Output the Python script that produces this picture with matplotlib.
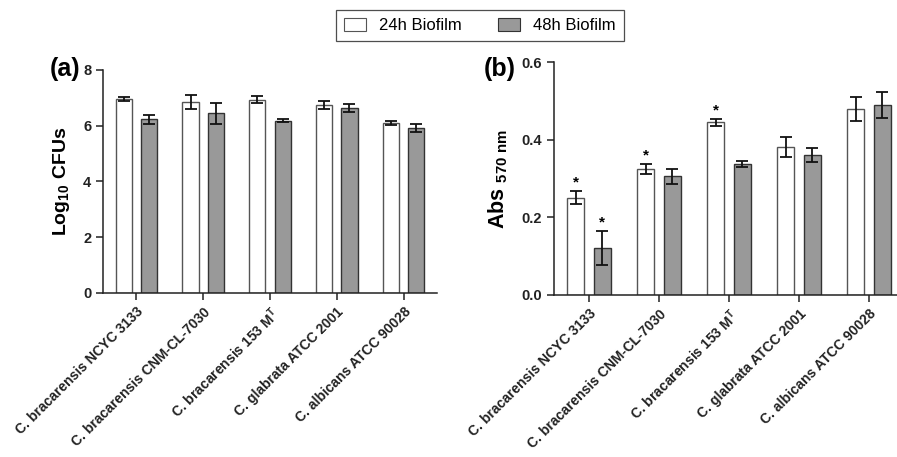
import numpy as np
import matplotlib
matplotlib.use("Agg")
import matplotlib.pyplot as plt
from matplotlib.patches import Patch

plt.rcParams['font.family'] = ['Liberation Sans', 'DejaVu Sans']
plt.rcParams['mathtext.fontset'] = 'custom'
plt.rcParams['mathtext.rm'] = 'Liberation Sans'
plt.rcParams['mathtext.bf'] = 'Liberation Sans:bold'
plt.rcParams['mathtext.it'] = 'Liberation Sans:italic:bold'

# categories
strains = ['C. bracarensis NCYC 3133', 'C. bracarensis CNM-CL-7030',
           r'C. bracarensis 153 M$^{\mathbf{T}}$', 'C. glabrata ATCC 2001',
           'C. albicans ATCC 90028']

# (a) log10 CFUs
cfu_24 = [6.97, 6.86, 6.93, 6.75, 6.09]
cfu_24_err = [0.07, 0.25, 0.12, 0.15, 0.08]
cfu_48 = [6.24, 6.45, 6.18, 6.63, 5.92]
cfu_48_err = [0.16, 0.38, 0.06, 0.15, 0.14]

# (b) Abs 570 nm
abs_24 = [0.251, 0.324, 0.445, 0.382, 0.479]
abs_24_err = [0.016, 0.013, 0.009, 0.026, 0.031]
abs_48 = [0.122, 0.306, 0.337, 0.361, 0.490]
abs_48_err = [0.044, 0.020, 0.0075, 0.017, 0.033]
star_24 = [True, True, True, False, False]
star_48 = [True, False, False, False, False]

gray = '#999999'
edge_w = '#555555'
x = np.arange(len(strains))
off = 0.19
bw = 0.245

fig = plt.figure(figsize=(8.97, 4.57), dpi=100)
axa = fig.add_axes([103/897, 1-293/457, 334/897, 223/457])
axb = fig.add_axes([554/897, 1-295/457, 350/897, 232.7/457])


def draw(ax, v24, e24, v48, e48):
    ax.bar(x - off, v24, bw, color='white', edgecolor=edge_w, linewidth=1.0, zorder=2)
    ax.bar(x + off, v48, bw, color=gray, edgecolor='#333333', linewidth=1.0, zorder=2)
    ax.errorbar(x - off, v24, yerr=e24, fmt='none', ecolor='#111111',
                elinewidth=1.3, capsize=4, capthick=1.3, zorder=3)
    ax.errorbar(x + off, v48, yerr=e48, fmt='none', ecolor='#111111',
                elinewidth=1.3, capsize=4, capthick=1.3, zorder=3)
    ax.set_xlim(-0.5, 4.5)
    for s in ['top', 'right']:
        ax.spines[s].set_visible(False)
    for s in ['left', 'bottom']:
        ax.spines[s].set_linewidth(1.1)
        ax.spines[s].set_color('#222222')
    ax.tick_params(axis='both', direction='out', width=1.1, length=5, colors='#222222')
    ax.set_xticks(x)
    ax.set_xticklabels(strains, rotation=45, ha='right', rotation_mode='anchor',
                       fontsize=10, fontweight='bold')


draw(axa, cfu_24, cfu_24_err, cfu_48, cfu_48_err)
axa.set_ylim(0, 8)
axa.set_yticks([0, 2, 4, 6, 8])
axa.set_yticklabels(['0', '2', '4', '6', '8'], fontweight='bold', fontsize=10.5)
axa.set_ylabel(r'Log$_{\mathbf{10}}$ CFUs', fontsize=14, fontweight='bold', labelpad=8)

draw(axb, abs_24, abs_24_err, abs_48, abs_48_err)
axb.set_ylim(0, 0.6)
axb.set_yticks([0, 0.2, 0.4, 0.6])
axb.set_yticklabels(['0.0', '0.2', '0.4', '0.6'], fontweight='bold', fontsize=10.5)
axb.set_ylabel(r'Abs $_{\mathbf{570\ nm}}$', fontsize=15.5, fontweight='bold', labelpad=8)
for i in range(len(strains)):
    if star_24[i]:
        axb.text(x[i] - off, abs_24[i] + abs_24_err[i] + 0.004, '*', ha='center',
                 va='bottom', fontsize=11, fontweight='bold')
    if star_48[i]:
        axb.text(x[i] + off, abs_48[i] + abs_48_err[i] + 0.004, '*', ha='center',
                 va='bottom', fontsize=11, fontweight='bold')

fig.text(80/897, 1-69/457, '(a)', ha='right', va='center', fontsize=18, fontweight='bold')
fig.text(516/897, 1-69/457, '(b)', ha='right', va='center', fontsize=18, fontweight='bold')

handles = [Patch(facecolor='white', edgecolor=edge_w, linewidth=0.8),
           Patch(facecolor=gray, edgecolor='#333333', linewidth=0.8)]
leg = fig.legend(handles, ['24h Biofilm', '48h Biofilm'], loc='center',
                 bbox_to_anchor=(480/897, 1-25.5/457), ncol=2, fontsize=12,
                 frameon=True, fancybox=False, edgecolor='#222222',
                 handlelength=1.3, handleheight=0.85, columnspacing=2.2,
                 borderpad=0.45)
leg.get_frame().set_linewidth(0.9)

fig.savefig('out.png', dpi=100)
